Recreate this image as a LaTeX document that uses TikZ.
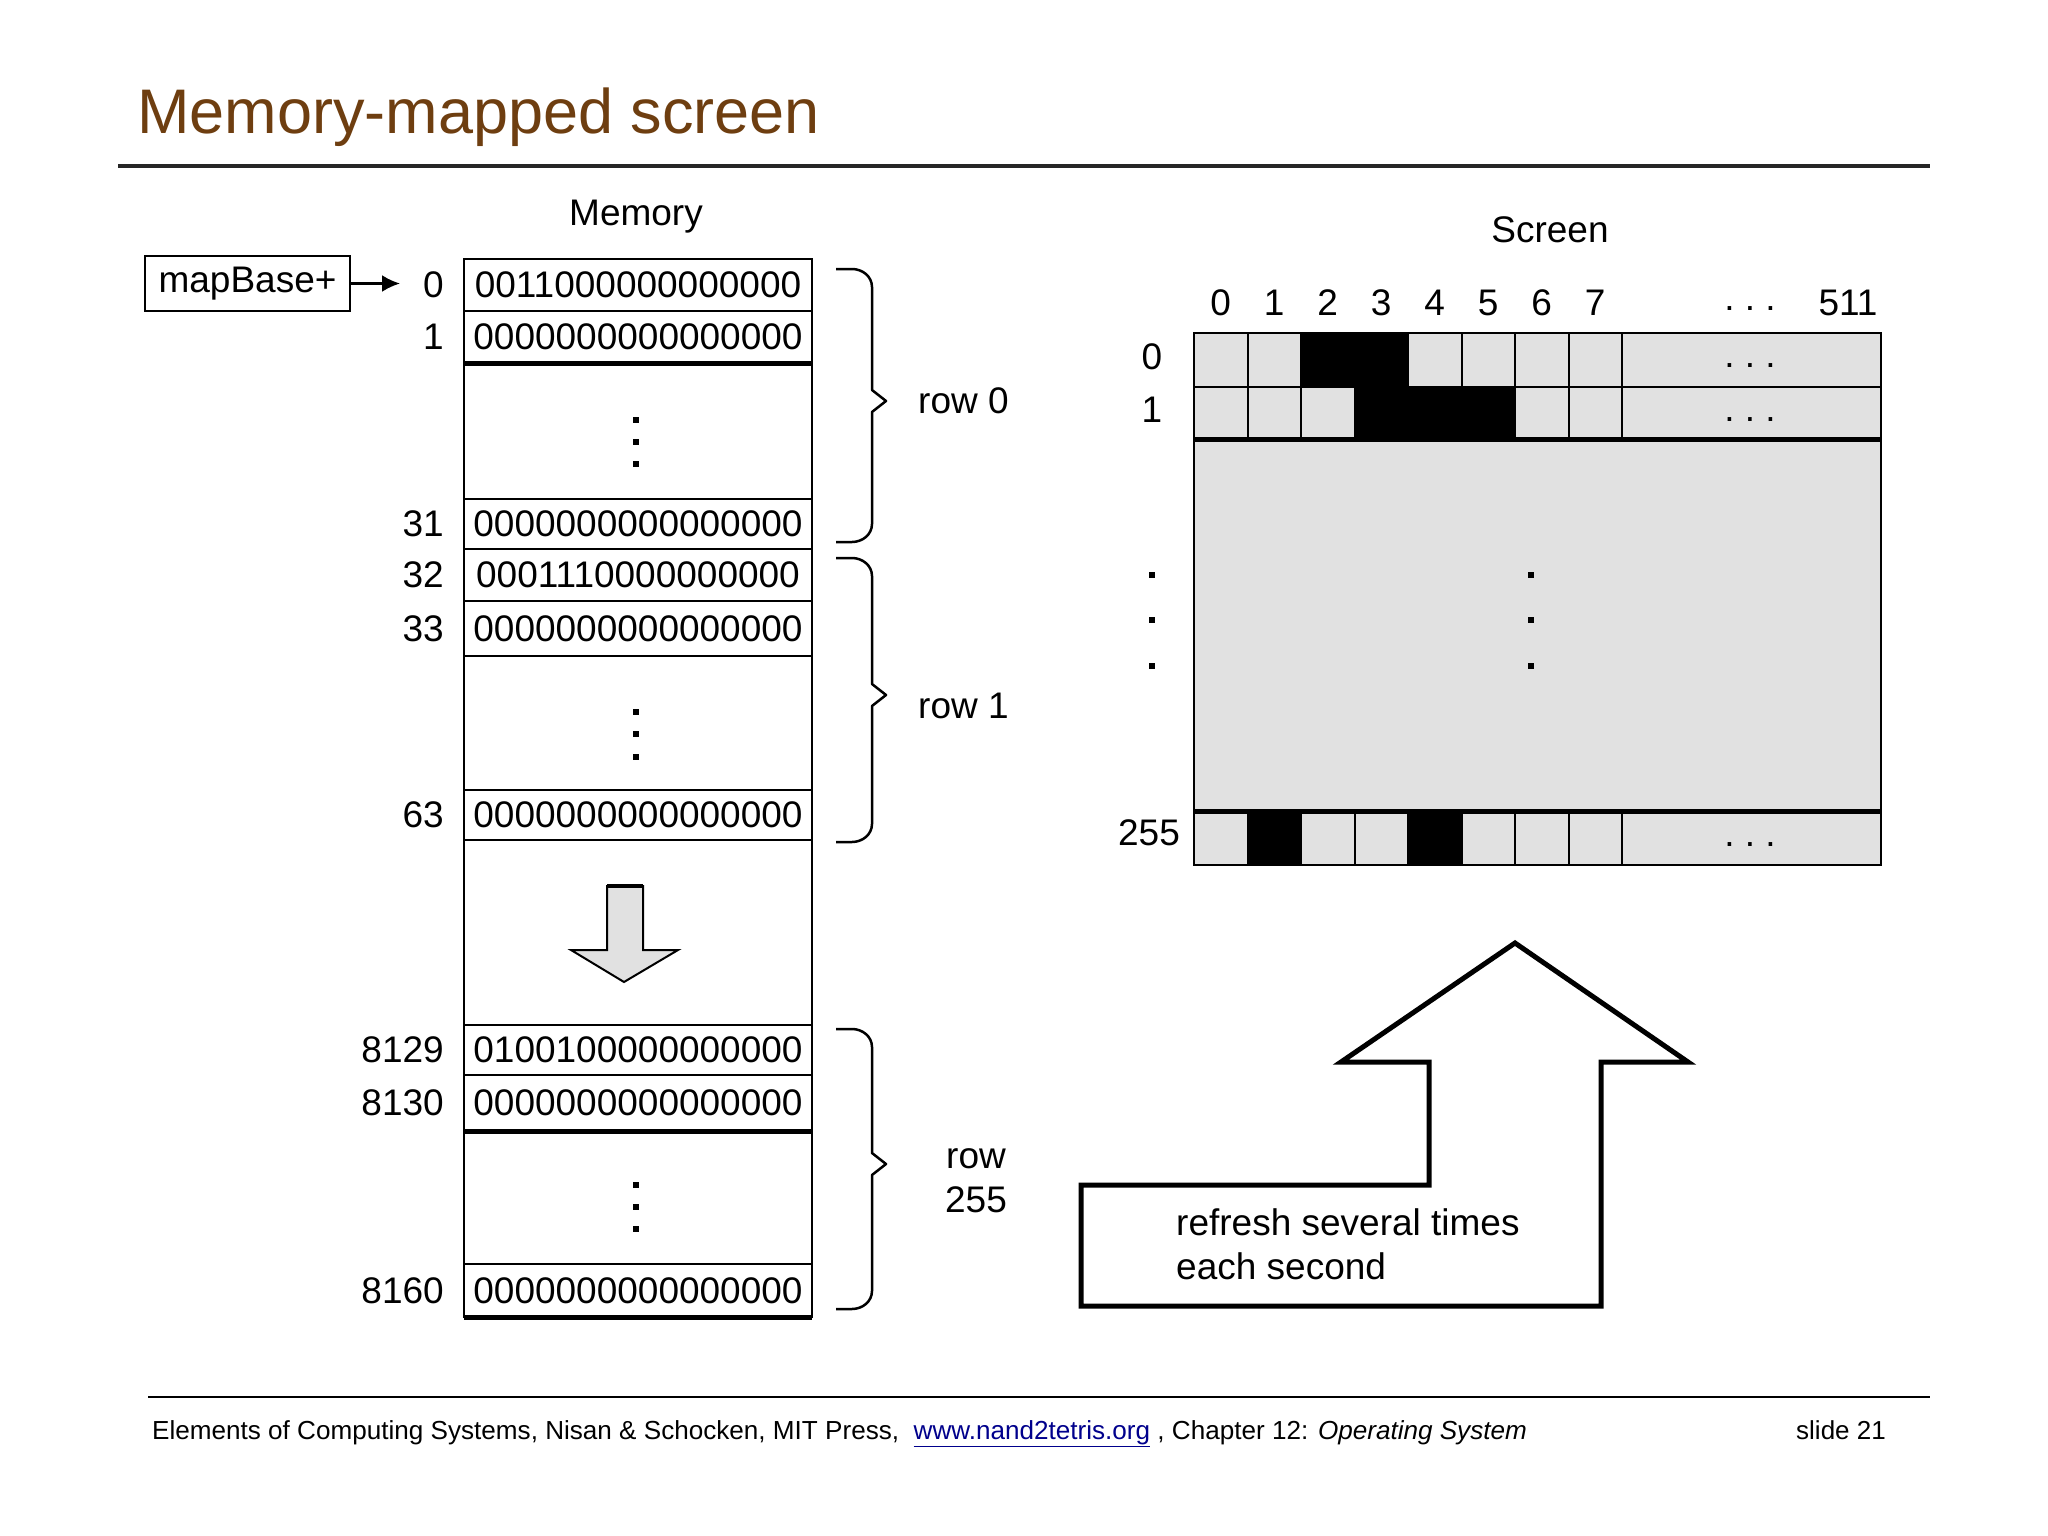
\documentclass[tikz,border=0pt]{standalone}
\usepackage{fontspec}
\setmainfont{Liberation Sans}
\usetikzlibrary{arrows.meta}
\newcommand\myfs[2]{\fontsize{#1}{#2}\selectfont}
\definecolor{titlebrown}{RGB}{110,62,16}
\definecolor{cellgray}{RGB}{225,225,225}
\definecolor{linkblue}{RGB}{0,0,140}
\begin{document}
\begin{tikzpicture}[x=1pt,y=-1pt,
  txt/.style={font=\myfs{37}{44}, inner sep=0pt},
  bits/.style={txt, anchor=center},
  addr/.style={txt, anchor=east},
  memline/.style={line width=2.2pt},
  heavyline/.style={line width=5pt},
  bracepath/.style={line width=2.5pt, line join=round},
  dotsq/.style={fill=black}
]
\fill[white] (0,0) rectangle (2048,1536);
\useasboundingbox (0,0) rectangle (2048,1536);

% title
\node[anchor=base west, inner sep=0pt, font=\myfs{63}{70}, text=titlebrown] (title) at (137,134) {Memory-mapped screen};
\draw[line width=4pt, black!85] (118,166) -- (1930,166);

% ---------- Memory ----------
\node[txt] (memlabel) at (636,217) {Memory};
\draw[memline] (464,259) rectangle (812,1317);
\foreach \y in {311,499,549,601,656,790,840,1025,1075,1264}
  \draw[memline] (464,\y) -- (812,\y);
\foreach \y in {363,1131,1317}
  \draw[heavyline] (464,\y) -- (812,\y);

\foreach \n/\t/\b/\v in {0/259/311/0011000000000000,
                          1/311/363/0000000000000000,
                          31/499/549/0000000000000000,
                          32/549/601/0001110000000000,
                          33/601/656/0000000000000000,
                          63/790/840/0000000000000000,
                          8129/1025/1075/0100100000000000,
                          8130/1075/1131/0000000000000000,
                          8160/1264/1317/0000000000000000}{
  \node[bits] (m\n) at (638,{(\t+\b)/2}) {\v};
  \node[addr] (a\n) at (444,{(\t+\b)/2}) {\n};
}

% vertical dots in gaps
\foreach \y in {420,442,464, 712,734,757, 1185,1207,1229}
  \fill[dotsq] (633,{\y-3}) rectangle ++(6,6);

% down arrow
\filldraw[fill=cellgray, draw=black, line width=2pt, line join=miter]
  (607,886) -- (643,886) -- (643,950) -- (678,950) -- (624,982) -- (571,950) -- (607,950) -- cycle;
\draw[line width=4pt] (607,886) -- (643,886);

% mapBase box and arrow
\node[draw, line width=2.5pt, minimum width=205pt, minimum height=55pt, inner sep=0pt, font=\myfs{37}{44}] (mb) at (247.5,283.5) {mapBase+};
\coordinate (mbend) at (400,283.5);
\draw[line width=2.5pt, -{Latex[length=18pt,width=17pt]}] (mb.east) -- (mbend);

% braces
\newcommand\membrace[3]{%
  \draw[bracepath] (836,#1) -- (852,#1) to[out=0,in=90] (872,{#1+18}) -- (872,{#3-11}) -- (886,#3) -- (872,{#3+11}) -- (872,{#2-18}) to[out=-90,in=0] (852,#2) -- (836,#2);}
\membrace{269}{542}{401}
\membrace{558}{842}{695}
\membrace{1029}{1309}{1164}
\node[txt, anchor=west] (row0) at (918,401) {row 0};
\node[txt, anchor=west] (row1) at (918,706) {row 1};
\node[txt, align=center] (row255) at (976,1181) {row\\255};

% ---------- Screen ----------
\node[txt] (scrlabel) at (1550,230) {Screen};
\foreach \i in {0,...,7}
  \node[txt] (c\i) at ({1194+53.5*\i+26.75},303) {\i};
\node[txt] (cdots) at (1750,309) {.\ .\ .};
\node[txt] (c511) at (1848,303) {511};

\fill[cellgray] (1194,333) rectangle (1881,865);
% black pixels
\fill[black] (1301,333) rectangle (1408,387);
\fill[black] (1354.5,387) rectangle (1515,439);
\fill[black] (1247.5,811) rectangle (1301,865);
\fill[black] (1408,811) rectangle (1461.5,865);
% grid
\foreach \i in {1,...,8}{
  \draw[line width=2pt] ({1194+53.5*\i},333) -- ({1194+53.5*\i},439);
  \draw[line width=2pt] ({1194+53.5*\i},811) -- ({1194+53.5*\i},865);
}
\draw[line width=2pt] (1194,387) -- (1881,387);
\draw[line width=5pt] (1194,439) -- (1881,439);
\draw[line width=5pt] (1194,811) -- (1881,811);
\draw[line width=2.5pt] (1194,333) rectangle (1881,865);

\node[txt] (sdots0) at (1750,366) {.\ .\ .};
\node[txt] (sdots1) at (1750,420) {.\ .\ .};
\node[txt] (sdots255) at (1750,845) {.\ .\ .};

\node[txt] (r0) at (1152,357) {0};
\node[txt] (r1) at (1152,410) {1};
\node[txt] (r255) at (1149,833) {255};
\foreach \y in {575,620,666}{
  \fill[dotsq] (1149,{\y-3}) rectangle ++(6,6);
  \fill[dotsq] (1528,{\y-3}) rectangle ++(6,6);
}

% big refresh arrow
\draw[line width=5pt, line join=miter]
  (1081,1185) -- (1429,1185) -- (1429,1062) -- (1341,1062) -- (1515,943) -- (1688,1062) -- (1601,1062) -- (1601,1306) -- (1081,1306) -- cycle;
\node[txt, anchor=west, align=left] (refresh) at (1176,1244) {refresh several times\\each second};

% footer
\draw[line width=2.5pt] (148,1397) -- (1930,1397);
\node[anchor=base west, inner sep=0pt, font=\myfs{26.1}{30}] (foot) at (152,1439)
  {Elements of Computing Systems, Nisan \& Schocken, MIT Press,\ \ \textcolor{linkblue}{\underline{www.nand2tetris.org}} , Chapter 12: \textit{Operating System}};
\node[anchor=base west, inner sep=0pt, font=\myfs{26}{30}] (slide) at (1796,1439) {slide 21};
\end{tikzpicture}
\end{document}
